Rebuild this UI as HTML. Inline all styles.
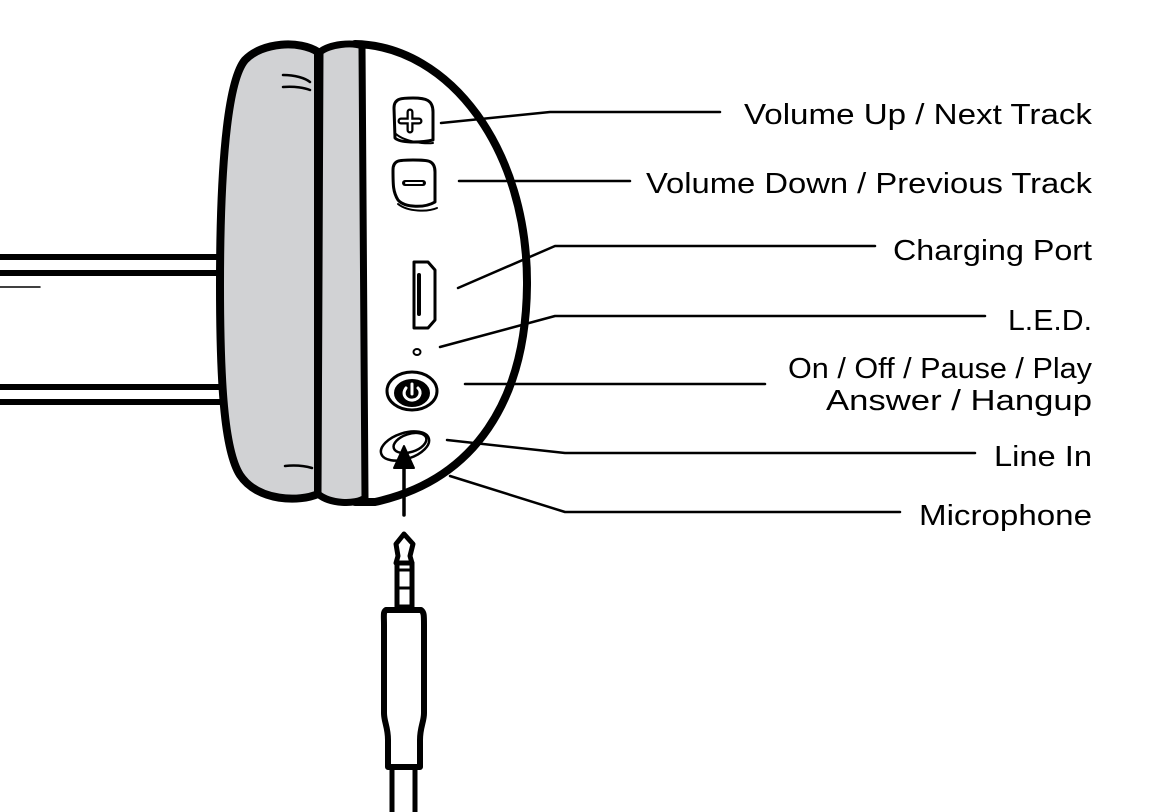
<!DOCTYPE html>
<html><head><style>html,body{margin:0;padding:0;background:#fff}svg{display:block}</style></head>
<body>
<svg width="1172" height="812" viewBox="0 0 1172 812" xmlns="http://www.w3.org/2000/svg">
<g fill="none" stroke="#000" stroke-linecap="round" stroke-linejoin="round">
<!-- headband -->
<g stroke-width="6">
<line x1="0" y1="257" x2="222" y2="257"/>
<line x1="0" y1="273" x2="222" y2="273"/>
<line x1="0" y1="387" x2="222" y2="387"/>
<line x1="0" y1="402" x2="222" y2="402"/>
</g>
<line x1="0" y1="287" x2="40" y2="287" stroke-width="1.5"/>
<!-- shell -->
<path d="M355,44 C450,46 528,150 527,285 C526,400 475,480 375,502 L355,502 Z" fill="#fff" stroke-width="8"/>
<!-- pad -->
<path d="M318,52 C300,40 262,42 245,60 C224,85 220,200 220,285 C220,380 224,450 240,475 C258,502 300,502 318,494 Z" fill="#d1d2d4" stroke-width="8"/>
<!-- band -->
<path d="M320,52 C330,44 352,42 362,46 L365,498 C355,505 330,504 318,494 Z" fill="#d1d2d4" stroke-width="7"/>
<path d="M283,75 C295,75 305,78 310,82 M283,87 C295,86 305,88 310,90 M285,466 C295,465 305,466 312,468" stroke-width="2.5"/>
<!-- buttons -->
<path d="M394,108 C394,98 402,98 413,98 C426,98 433,100 433,112 L433,140 C420,143 400,143 395,138 Z" fill="#fff" stroke-width="3"/>
<path d="M396,134 C405,142 425,144 433,143" stroke-width="2"/>
<path d="M410,112 L410,130 M401,121 L419,121" stroke-width="7" stroke-linecap="round"/>
<path d="M410,112 L410,130 M401,121 L419,121" stroke="#fff" stroke-width="2.5" stroke-linecap="round"/>
<path d="M393,170 C393,160 399,160 413,160 C428,160 435,160 435,172 L435,202 C425,208 405,208 398,200 C393,192 393,185 393,170 Z" fill="#fff" stroke-width="3"/>
<path d="M398,204 C408,212 428,212 437,208" stroke-width="2"/>
<line x1="405" y1="183" x2="423" y2="183" stroke-width="6"/>
<line x1="406" y1="183" x2="422" y2="183" stroke="#fff" stroke-width="2"/>
<!-- charging port -->
<path d="M414,262 L428,262 L435,270 L435,320 L428,328 L414,328 Z" stroke-width="3"/>
<line x1="419" y1="275" x2="419" y2="314" stroke-width="4"/>
<ellipse cx="417" cy="352" rx="3.5" ry="3" stroke-width="2"/>
<!-- power -->
<ellipse cx="412" cy="391" rx="25" ry="19" stroke-width="3"/>
<ellipse cx="412" cy="393" rx="17" ry="13" fill="#000" stroke-width="2"/>
<path d="M406,388 C401,395 407,401 413,400 C420,399 422,392 418,388" stroke="#fff" stroke-width="3"/>
<line x1="412" y1="384" x2="412" y2="394" stroke="#fff" stroke-width="3"/>
<!-- line in -->
<ellipse cx="405" cy="446" rx="25" ry="13" transform="rotate(-18 405 446)" stroke-width="2.5"/>
<ellipse cx="410" cy="443" rx="17" ry="9" transform="rotate(-18 410 443)" stroke-width="2.5"/>
<!-- arrow -->
<line x1="404" y1="515" x2="404" y2="460" stroke-width="3.5"/>
<path d="M394,468 L404,446 L414,468 Z" fill="#000" stroke-width="2"/>
<!-- jack -->
<path d="M404,534 L396,544 L398,556 L396,563 L412,563 L410,556 L413,544 Z" fill="#fff" stroke-width="5"/>
<rect x="397" y="563" width="15" height="44" fill="#fff" stroke-width="5"/>
<line x1="398" y1="570" x2="411" y2="570" stroke-width="3"/>
<line x1="398" y1="588" x2="411" y2="588" stroke-width="3"/>
<path d="M386,610 C383,612 384,615 384,625 L384,713 C384,722 388,727 388,740 L388,767 L420,767 L420,740 C420,727 424,722 424,713 L424,625 C424,615 424,612 421,610 Z" fill="#fff" stroke-width="6"/>
<line x1="388" y1="610" x2="420" y2="610" stroke-width="4"/>
<line x1="392" y1="767" x2="392" y2="812" stroke-width="5"/>
<line x1="415" y1="767" x2="415" y2="812" stroke-width="5"/>
<!-- leaders -->
<g stroke-width="2.5">
<polyline points="441,123 550,112 720,112"/>
<polyline points="459,181 630,181"/>
<polyline points="458,288 555,246 875,246"/>
<polyline points="440,347 555,316 985,316"/>
<polyline points="465,384 765,384"/>
<polyline points="447,440 565,453 975,453"/>
<polyline points="450,476 565,512 900,512"/>
</g>
</g>
<g font-family="'Liberation Sans', sans-serif" font-size="29" fill="#000" text-anchor="end">
<text x="1092" y="124" textLength="348" lengthAdjust="spacingAndGlyphs">Volume Up / Next Track</text>
<text x="1092" y="193" textLength="446" lengthAdjust="spacingAndGlyphs">Volume Down / Previous Track</text>
<text x="1092" y="260" textLength="199" lengthAdjust="spacingAndGlyphs">Charging Port</text>
<text x="1092" y="330" textLength="84" lengthAdjust="spacingAndGlyphs">L.E.D.</text>
<text x="1092" y="378" textLength="304" lengthAdjust="spacingAndGlyphs">On / Off / Pause / Play</text>
<text x="1092" y="410" textLength="266" lengthAdjust="spacingAndGlyphs">Answer / Hangup</text>
<text x="1092" y="466" textLength="98" lengthAdjust="spacingAndGlyphs">Line In</text>
<text x="1092" y="525" textLength="173" lengthAdjust="spacingAndGlyphs">Microphone</text>
</g>
</svg>
</body></html>
